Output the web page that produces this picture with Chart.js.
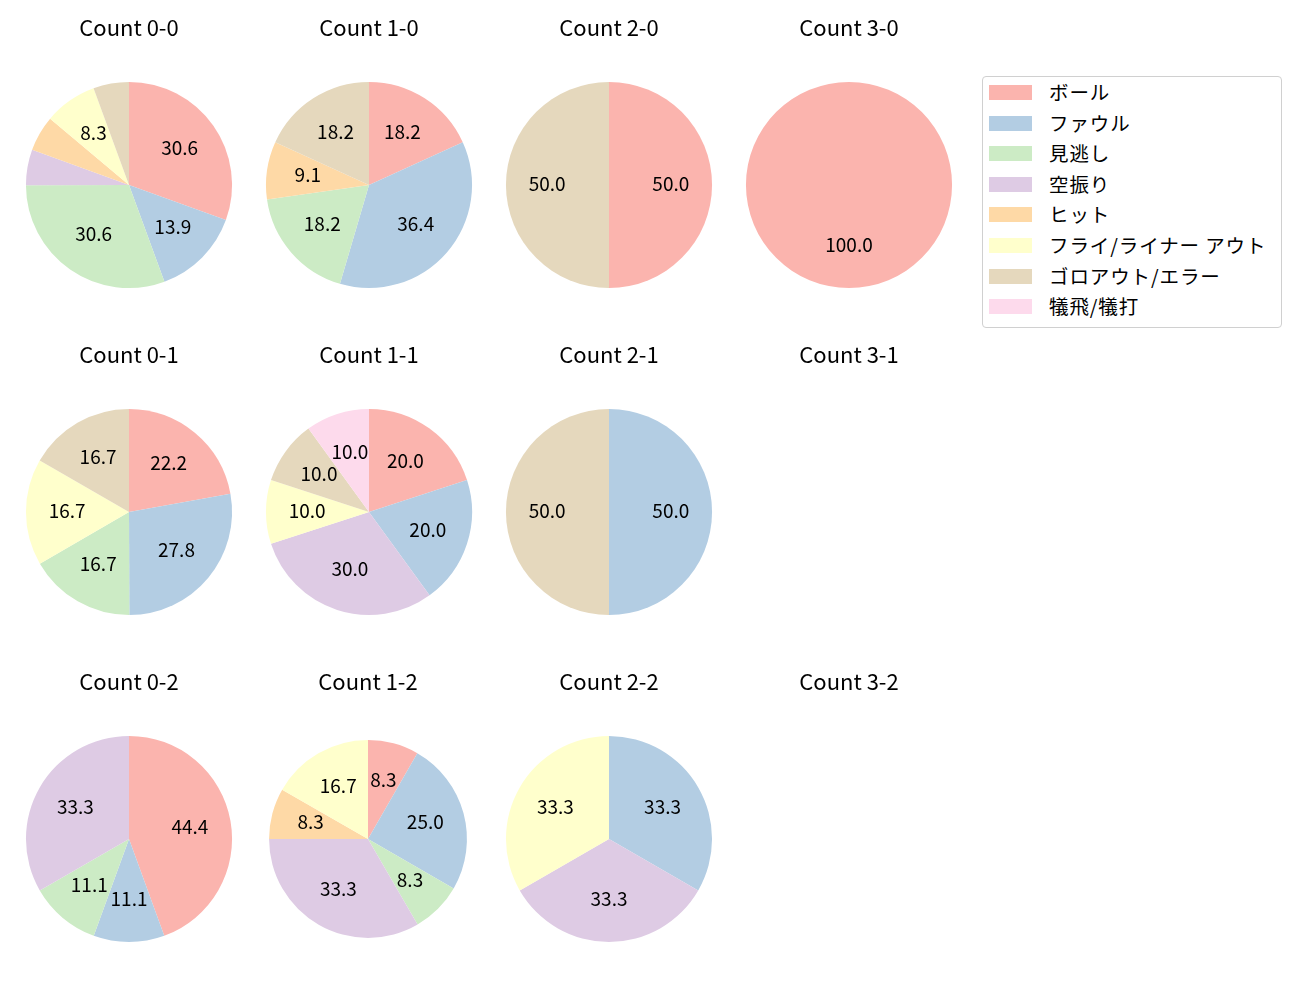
<!DOCTYPE html>
<html>
<head>
<meta charset="utf-8">
<script src="https://cdn.jsdelivr.net/npm/chart.js@4/dist/chart.umd.min.js"></script>
<style>
  body { margin: 0; background: #fff; font-family: "Noto Sans CJK JP", "Noto Sans", sans-serif; }
  #wrap { position: relative; width: 1300px; height: 1000px; }
  .cell { position: absolute; width: 240px; height: 290px; }
  #legend { position: absolute; left: 982px; top: 76px; width: 300px; height: 252px;
            border: 1px solid #d0d0d0; border-radius: 4px; box-sizing: border-box; }
  .sw { position: absolute; left: 6px; width: 43px; height: 15px; }
  .lab { position: absolute; left: 66px; font-size: 19.5px; letter-spacing: 0.9px; white-space: nowrap; color: #000; line-height: 20px; }
</style>
</head>
<body>
<div id="wrap">
  <div id="legend"></div>
</div>
<script>
// 凡例の項目と色
const categories = ['ボール', 'ファウル', '見逃し', '空振り', 'ヒット', 'フライ/ライナー アウト', 'ゴロアウト/エラー', '犠飛/犠打'];
const colors = ['#fbb4ae', '#b3cde3', '#ccebc5', '#decbe4', '#fed9a6', '#ffffcc', '#e5d8bd', '#fddaec'];

// カウント別の割合 (%)  順番は categories と同じ
const count00 = [30.6, 13.9, 30.6, 5.6, 5.6, 8.3, 5.6, 0];
const count10 = [18.2, 36.4, 18.2, 0, 9.1, 0, 18.2, 0];
const count20 = [50.0, 0, 0, 0, 0, 0, 50.0, 0];
const count30 = [100.0, 0, 0, 0, 0, 0, 0, 0];
const count01 = [22.2, 27.8, 16.7, 0, 0, 16.7, 16.7, 0];
const count11 = [20.0, 20.0, 0, 30.0, 0, 10.0, 10.0, 10.0];
const count21 = [0, 50.0, 0, 0, 0, 0, 50.0, 0];
const count31 = [];
const count02 = [44.4, 11.1, 11.1, 33.3, 0, 0, 0, 0];
const count12 = [8.3, 25.0, 8.3, 33.3, 8.3, 16.7, 0, 0];
const count22 = [0, 33.3, 0, 33.3, 0, 33.3, 0, 0];
const count32 = [];

const titles = [
    ['Count 0-0', 'Count 1-0', 'Count 2-0', 'Count 3-0'],
    ['Count 0-1', 'Count 1-1', 'Count 2-1', 'Count 3-1'],
    ['Count 0-2', 'Count 1-2', 'Count 2-2', 'Count 3-2']
];
const grid = [
    [count00, count10, count20, count30],
    [count01, count11, count21, count31],
    [count02, count12, count22, count32]
];

const FONT = '"Noto Sans CJK JP", "Noto Sans", sans-serif';

// パーセント表示 (小さい扇形は省略)
const pctLabels = {
    id: 'pctLabels',
    afterDatasetsDraw(chart) {
        const ctx = chart.ctx;
        const meta = chart.getDatasetMeta(0);
        const values = chart.data.datasets[0].data;
        ctx.save();
        ctx.font = '19px ' + FONT;
        ctx.fillStyle = '#000';
        ctx.textAlign = 'center';
        ctx.textBaseline = 'middle';
        meta.data.forEach((arc, i) => {
            const v = values[i];
            if (!v || v < 7) return;
            const p = arc.getProps(['x', 'y', 'startAngle', 'endAngle', 'outerRadius'], true);
            const mid = (p.startAngle + p.endAngle) / 2;
            const r = p.outerRadius * 0.6;
            ctx.fillText(v.toFixed(1), p.x + Math.cos(mid) * r, p.y + Math.sin(mid) * r - 1.5);
        });
        ctx.restore();
    }
};

const wrap = document.getElementById('wrap');
grid.forEach((row, ri) => {
    row.forEach((vals, ci) => {
        const div = document.createElement('div');
        div.className = 'cell';
        div.style.left = (9 + ci * 240) + 'px';
        div.style.top = (ri * 327) + 'px';
        const canvas = document.createElement('canvas');
        canvas.width = 240;
        canvas.height = 290;
        div.appendChild(canvas);
        wrap.appendChild(div);
        // Count 1-2 の円だけ少し小さい
        const small = (ri === 2 && ci === 1);
        new Chart(canvas, {
            type: 'pie',
            data: {
                labels: categories,
                datasets: [{ data: vals, backgroundColor: colors, borderWidth: 0 }]
            },
            options: {
                responsive: false,
                animation: false,
                radius: small ? '96%' : '100%',
                layout: { padding: { bottom: 2, right: small ? 2 : 0 } },
                plugins: {
                    legend: { display: false },
                    tooltip: { enabled: false },
                    title: {
                        display: true,
                        text: titles[ri][ci],
                        color: '#000',
                        font: { family: FONT, size: 22, weight: 'normal', lineHeight: 1.2 },
                        padding: { top: 14.5, bottom: 41 }
                    }
                }
            },
            plugins: [pctLabels]
        });
    });
});

// 凡例
const legend = document.getElementById('legend');
categories.forEach((c, i) => {
    const sw = document.createElement('div');
    sw.className = 'sw';
    sw.style.background = colors[i];
    sw.style.top = (8 + i * 30.6) + 'px';
    legend.appendChild(sw);
    const lab = document.createElement('div');
    lab.className = 'lab';
    lab.textContent = c;
    lab.style.top = (5 + i * 30.6) + 'px';
    legend.appendChild(lab);
});
</script>
</body>
</html>
